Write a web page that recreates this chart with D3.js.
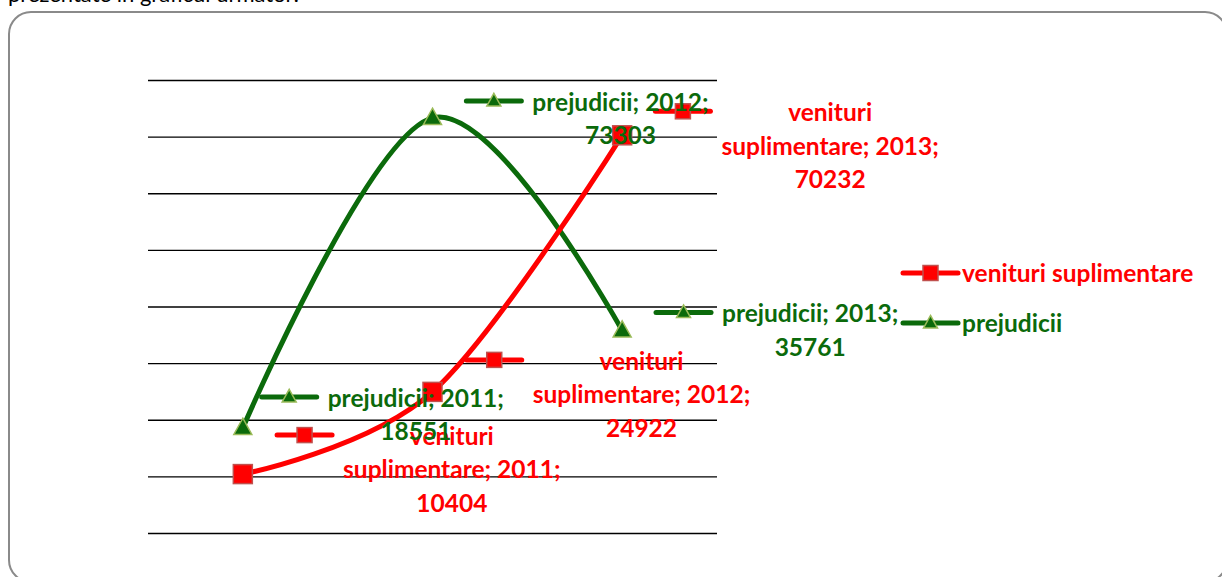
<!DOCTYPE html>
<html><head><meta charset="utf-8">
<script src="https://cdn.jsdelivr.net/npm/d3@7"></script>
<style>
html,body{margin:0;padding:0;background:#fff;overflow:hidden}
svg{display:block}
</style></head>
<body>
<script>
// ---- data ----
const categories = ["2011", "2012", "2013"];
const seriesNames = ["venituri suplimentare", "prejudicii"];
const venituriValues = [10404, 24922, 70232];
const prejudiciiValues = [18551, 73303, 35761];
const yTicks = [0, 10000, 20000, 30000, 40000, 50000, 60000, 70000, 80000];

// ---- layout (not data) ----
const W = 1222, H = 577;
const plot = {left: 148, right: 717, top: 80, bottom: 533};
const FONT = "Lato, 'Open Sans', 'DejaVu Sans', sans-serif";
const FS = 24.5, LH = 33.5;
const GREEN = "#0b6a0b", RED = "#ff0000";
// label offsets relative to the data point (block centre x, first line y)
const labelOffsets = {
  "prejudicii": [[173, -30], [188, -16], [188, -17]],
  "venituri suplimentare": [[209, -38], [209, -31], [208, -23]]
};

const svg = d3.select("body").append("svg").attr("width", W).attr("height", H);

// cut-off document text above the chart
svg.append("text").attr("x", 8).attr("y", 1.5).attr("font-family", FONT)
  .attr("font-size", 22).attr("fill", "#000").text("prezentate în graficul următor:");

// chart border
svg.append("rect").attr("x", 9).attr("y", 12).attr("width", 1218).attr("height", 570)
  .attr("rx", 22).attr("fill", "#fff").attr("stroke", "#8a8a8a").attr("stroke-width", 2);

const x = d3.scaleBand().domain(categories).range([plot.left, plot.right]);
const cx = c => x(c) + x.bandwidth() / 2;
const y = d3.scaleLinear().domain([0, 80000]).range([plot.bottom, plot.top]);

// gridlines
svg.append("g").attr("transform", `translate(${plot.left},0)`)
  .call(d3.axisLeft(y).tickValues(yTicks).tickSize(-(plot.right - plot.left)).tickFormat(""))
  .call(g => g.select(".domain").remove())
  .call(g => g.selectAll(".tick line").attr("stroke", "#000").attr("stroke-width", 1.3));

const series = [
  {name: "venituri suplimentare", values: venituriValues, color: RED, marker: "square"},
  {name: "prejudicii", values: prejudiciiValues, color: GREEN, marker: "triangle"}
];

function drawMarker(g, type, px, py, s) {
  if (type === "square") {
    g.append("rect").attr("x", px - s / 2).attr("y", py - s / 2).attr("width", s).attr("height", s)
      .attr("fill", "#ff0000").attr("stroke", "#c0504d").attr("stroke-width", 1.5);
  } else {
    const h = s * 0.9;
    g.append("path").attr("d", `M${px},${py - h * 0.6}L${px + s / 2},${py + h * 0.4}L${px - s / 2},${py + h * 0.4}Z`)
      .attr("fill", "#0b6a0b").attr("stroke", "#9bbb59").attr("stroke-width", 1.5);
  }
}
function drawKey(g, s, x0, yy, len, msize) {
  g.append("line").attr("x1", x0).attr("x2", x0 + len).attr("y1", yy).attr("y2", yy)
    .attr("stroke", s.color).attr("stroke-width", 5).attr("stroke-linecap", "round");
  drawMarker(g, s.marker, x0 + len / 2, yy, msize);
}

const line = d3.line().x((d, i) => cx(categories[i])).y(d => y(d)).curve(d3.curveCardinal.tension(0));

// lines (prejudicii first, venituri on top)
const linesG = svg.append("g");
[series[1], series[0]].forEach(s => {
  linesG.append("path").attr("d", line(s.values)).attr("fill", "none")
    .attr("stroke", s.color).attr("stroke-width", 5).attr("stroke-linecap", "round");
});
const markG = svg.append("g");
[series[1], series[0]].forEach(s => {
  s.values.forEach((v, i) => drawMarker(markG, s.marker, cx(categories[i]), y(v), s.marker === "square" ? 19 : 18));
});

// data labels
function labelLines(s, cat, v) {
  if (s.name === "venituri suplimentare") return ["venituri", "suplimentare; " + cat + ";", String(v)];
  return [s.name + "; " + cat + ";", String(v)];
}
const labG = svg.append("g");
series.forEach(s => {
  s.values.forEach((v, i) => {
    const [dx, dy] = labelOffsets[s.name][i];
    const px = cx(categories[i]) + dx, py = y(v) + dy;
    const g = labG.append("g");
    const lines = labelLines(s, categories[i], v);
    let maxW = 0;
    lines.forEach((t, k) => {
      const te = g.append("text").attr("x", px).attr("y", py + k * LH + FS * 0.36)
        .attr("text-anchor", "middle").attr("font-family", FONT).attr("font-weight", "bold")
        .attr("font-size", FS).attr("fill", s.color === RED ? RED : GREEN).text(t);
      maxW = Math.max(maxW, te.node().getComputedTextLength());
    });
    const left = px - maxW / 2;
    drawKey(g, s, left - 11 - 55, py - 1, 55, s.marker === "square" ? 15 : 14);
    g.selectAll("text").raise();
  });
});

// legend
const legG = svg.append("g");
series.forEach((s, k) => {
  const ly = 273 + k * 50;
  drawKey(legG, s, 903, ly, 55, s.marker === "square" ? 15 : 14);
  legG.append("text").attr("x", 962).attr("y", ly + FS * 0.36).attr("font-family", FONT)
    .attr("font-weight", "bold").attr("font-size", FS).attr("fill", s.color === RED ? RED : GREEN)
    .text(s.name);
});
</script>
</body></html>
